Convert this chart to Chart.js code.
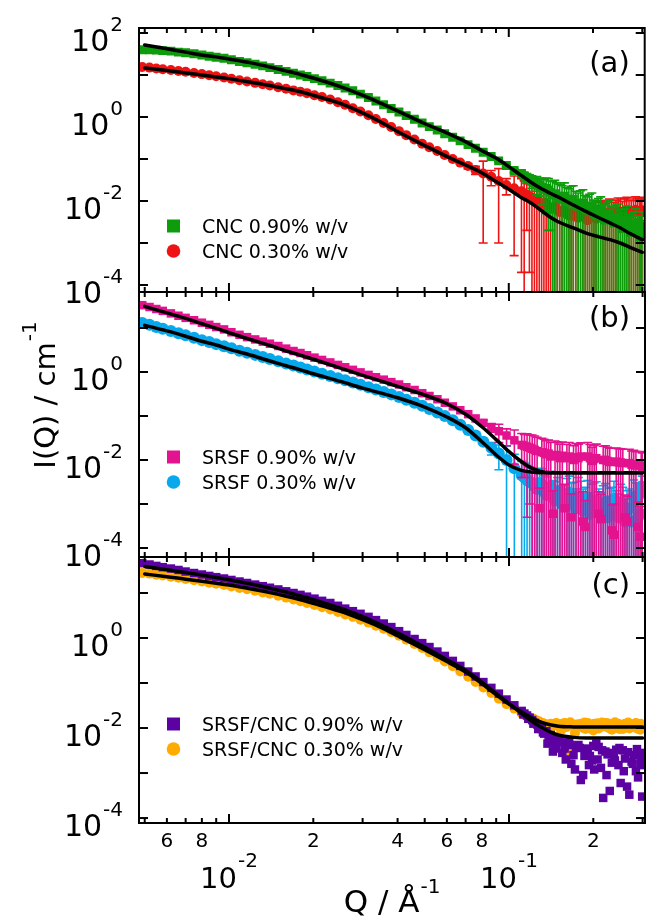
<!DOCTYPE html>
<html>
<head>
<meta charset="utf-8">
<script src="https://cdn.jsdelivr.net/npm/chart.js@4.4.1/dist/chart.umd.min.js"></script>
<style>
  body { margin: 0; background: #fff; }
  #wrap { position: relative; width: 651px; height: 922px; }
  #wrap canvas { position: absolute; left: 0; top: 0; }
</style>
</head>
<body>
<div id="wrap">
  <canvas id="pa" width="651" height="922"></canvas>
  <canvas id="pb" width="651" height="922"></canvas>
  <canvas id="pc" width="651" height="922"></canvas>
</div>
<script>
// Q values (1/Å) of the measured points, shared by all six curves
const q = [
  0.0049, 0.0052, 0.0055, 0.0058, 0.0062, 0.0066, 0.007, 0.0075, 0.008, 0.0085,
  0.009, 0.0096, 0.0102, 0.0109, 0.0116, 0.0124, 0.0132, 0.014, 0.015, 0.016,
  0.017, 0.018, 0.019, 0.0202, 0.0215, 0.023, 0.0245, 0.026, 0.0277, 0.0295,
  0.0315, 0.0335, 0.0357, 0.038, 0.0405, 0.043, 0.046, 0.049, 0.052, 0.0555,
  0.059, 0.063, 0.067, 0.0715, 0.076, 0.081, 0.0865, 0.092, 0.098, 0.1045,
  0.111, 0.116, 0.121, 0.126, 0.131, 0.136, 0.141, 0.146, 0.152, 0.158,
  0.164, 0.170, 0.177, 0.184, 0.191, 0.198, 0.205, 0.213, 0.221, 0.229,
  0.237, 0.246, 0.255, 0.264, 0.274, 0.284, 0.294, 0.299
];
// extra points in the noisy high-Q tail
const qTail = [
  0.1135, 0.1185, 0.1235, 0.1285, 0.1335, 0.1385, 0.1435, 0.149, 0.155, 0.161,
  0.167, 0.1735, 0.1805, 0.1875, 0.1945, 0.2015, 0.209, 0.217, 0.225, 0.233,
  0.2415, 0.2505, 0.2595, 0.269, 0.279, 0.289, 0.2965
];
// more tail points, panel (c)
const qTail2 = [
  0.1125, 0.1172, 0.1222, 0.1272, 0.1322, 0.1372, 0.1422, 0.1475, 0.1535, 0.1595,
  0.1655, 0.172, 0.179, 0.186, 0.193, 0.2, 0.2072, 0.215, 0.223, 0.231,
  0.239, 0.248, 0.257, 0.2665, 0.2765, 0.2865, 0.2955
];

// (a) CNC
const cnc090 = [
  40, 40, 39, 38, 37, 35, 34, 32, 30, 28,
  26.5, 25, 23, 21, 19.5, 18, 16.5, 15, 13.5, 12.2,
  11, 10, 9.2, 8.2, 7.3, 6.4, 5.6, 4.9, 4.2, 3.5,
  2.9, 2.4, 1.95, 1.6, 1.32, 1.08, 0.88, 0.72, 0.59, 0.49,
  0.4, 0.33, 0.27, 0.22, 0.18, 0.145, 0.115, 0.09, 0.07, 0.053,
  0.045, 0.036, 0.03, 0.026, 0.021, 0.02, 0.016, 0.015, 0.012, 0.013,
  0.0095, 0.011, 0.0075, 0.009, 0.006, 0.0075, 0.0045, 0.006, 0.0035, 0.005,
  0.003, 0.004, 0.0022, 0.0035, 0.0018, 0.003, 0.0014, 0.0025
];
const cnc090Err = [
  0, 0, 0, 0, 0, 0, 0, 0, 0, 0,
  0, 0, 0, 0, 0, 0, 0, 0, 0, 0,
  0, 0, 0, 0, 0, 0, 0, 0, 0, 0,
  0, 0, 0, 0, 0, 0, 0, 0, 0, 0,
  0, 0, 0, 0, 0, 0.004, 0.004, 0.004, 0.005, 0.006,
  0.008, 0.009, 0.01, 0.012, 0.013, 0.015, 0.014, 0.016, 0.013, 0.014,
  0.01, 0.012, 0.008, 0.0095, 0.0065, 0.008, 0.0055, 0.0065, 0.0045, 0.0055,
  0.004, 0.0045, 0.003, 0.004, 0.0025, 0.0035, 0.002, 0.003
];
const cnc090Tail = [
  0.04, 0.034, 0.027, 0.024, 0.019, 0.018, 0.014, 0.013, 0.011, 0.01,
  0.0105, 0.008, 0.0085, 0.0065, 0.007, 0.005, 0.0055, 0.004, 0.0045, 0.0035,
  0.0038, 0.0028, 0.003, 0.0022, 0.0024, 0.0017, 0.0019
];
const cnc090TailErr = [
  0.007, 0.008, 0.01, 0.011, 0.013, 0.016, 0.015, 0.014, 0.012, 0.011,
  0.012, 0.009, 0.009, 0.007, 0.0075, 0.0055, 0.006, 0.0045, 0.005, 0.004,
  0.0042, 0.0032, 0.0035, 0.0026, 0.003, 0.002, 0.0024
];
const cnc030 = [
  15.5, 15, 14.3, 13.7, 13.1, 12.5, 11.9, 11.2, 10.5, 9.9,
  9.3, 8.7, 8.1, 7.5, 7.0, 6.5, 6.0, 5.6, 5.1, 4.7,
  4.3, 4.0, 3.7, 3.3, 3.0, 2.6, 2.25, 1.95, 1.62, 1.35,
  1.1, 0.9, 0.72, 0.58, 0.46, 0.37, 0.29, 0.23, 0.19, 0.155,
  0.125, 0.1, 0.082, 0.068, 0.055, 0.045, 0.038, 0.03, 0.024, 0.02,
  0.017, 0.014, 0.012, 0.011, 0.0085, 0.009, 0.0065, 0.0075, 0.0055, 0.006,
  0.0045, 0.005, 0.004, 0.0048, 0.0035, 0.0045, 0.0038, 0.005, 0.0042, 0.0055,
  0.0045, 0.0058, 0.0048, 0.006, 0.005, 0.0062, 0.0052, 0.006
];
const cnc030Err = [
  0, 0, 0, 0, 0, 0, 0, 0, 0, 0,
  0, 0, 0, 0, 0, 0, 0, 0, 0, 0,
  0, 0, 0, 0, 0, 0, 0, 0, 0, 0,
  0, 0, 0, 0, 0, 0, 0, 0, 0, 0,
  0, 0, 0, 0.01, 0.012, 0.044, 0.015, 0.029, 0.01, 0.0195,
  0.0168, 0.012, 0.0125, 0.012, 0.009, 0.0095, 0.007, 0.008, 0.006, 0.0065,
  0.005, 0.0055, 0.0042, 0.005, 0.0038, 0.0047, 0.004, 0.0052, 0.0045, 0.0057,
  0.0047, 0.006, 0.005, 0.0062, 0.0052, 0.0064, 0.0054, 0.0062
];
const cnc030Tail = [
  0.015, 0.013, 0.0115, 0.0095, 0.0088, 0.0072, 0.007, 0.006, 0.0058, 0.005,
  0.0052, 0.0042, 0.0045, 0.004, 0.0042, 0.0045, 0.0048, 0.0046, 0.005, 0.0052,
  0.005, 0.0055, 0.0056, 0.0052, 0.0058, 0.0056, 0.0055
];
const cnc030TailErr = [
  0.0152, 0.0128, 0.0118, 0.0098, 0.009, 0.0075, 0.0072, 0.0062, 0.006, 0.0052,
  0.0054, 0.0044, 0.0047, 0.0042, 0.0044, 0.0047, 0.005, 0.0048, 0.0052, 0.0054,
  0.0052, 0.0057, 0.0058, 0.0054, 0.006, 0.0058, 0.0057
];

// (b) SRSF
const srsf090 = [
  33, 30, 27, 24.5, 21.5, 19, 17, 15, 13.2, 11.8,
  10.5, 9.3, 8.0, 7.0, 6.2, 5.5, 4.9, 4.4, 3.9, 3.4,
  3.0, 2.7, 2.4, 2.12, 1.88, 1.65, 1.45, 1.28, 1.12, 0.98,
  0.86, 0.76, 0.67, 0.59, 0.52, 0.45, 0.39, 0.33, 0.285, 0.24,
  0.2, 0.165, 0.135, 0.11, 0.088, 0.07, 0.055, 0.045, 0.036, 0.028,
  0.022, 0.02, 0.018, 0.016, 0.015, 0.0135, 0.012, 0.013, 0.011, 0.0008,
  0.012, 0.01, 0.011, 0.0004, 0.012, 0.0095, 0.011, 0.00045, 0.01, 0.009,
  0.0002, 0.0088, 0.0085, 0.0004, 0.0078, 0.0075, 0.00018, 0.007
];
const srsf090Err = [
  0, 0, 0, 0, 0, 0, 0, 0, 0, 0,
  0, 0, 0, 0, 0, 0, 0, 0, 0, 0,
  0, 0, 0, 0, 0, 0, 0, 0, 0, 0,
  0, 0, 0, 0, 0, 0, 0, 0, 0, 0,
  0, 0, 0, 0, 0, 0.01, 0.012, 0.02, 0.015, 0.02,
  0.018, 0.0195, 0.019, 0.017, 0.016, 0.014, 0.013, 0.014, 0.012, 0.002,
  0.013, 0.011, 0.012, 0.0015, 0.013, 0.01, 0.012, 0.0012, 0.011, 0.0095,
  0.0008, 0.0093, 0.009, 0.0011, 0.0082, 0.008, 0.0007, 0.0075
];
const srsf090Tail = [
  0.021, 0.019, 0.017, 0.0008, 0.0145, 0.014, 0.0006, 0.0125, 0.0125, 0.011,
  0.0005, 0.0115, 0.012, 0.0003, 0.011, 0.0105, 0.0006, 0.01, 0.0095, 0.00025,
  0.0092, 0.0088, 0.0005, 0.0085, 0.008, 0.0003, 0.0075
];
const srsf090TailErr = [
  0.017, 0.018, 0.018, 0.0015, 0.015, 0.0145, 0.0014, 0.013, 0.013, 0.0115,
  0.0012, 0.012, 0.0125, 0.0009, 0.0115, 0.011, 0.0013, 0.0105, 0.01, 0.0007,
  0.0096, 0.0092, 0.0011, 0.009, 0.0085, 0.0008, 0.008
];
const srsf030 = [
  13, 11.8, 10.6, 9.6, 8.5, 7.6, 6.8, 6.0, 5.3, 4.8,
  4.3, 3.85, 3.45, 3.05, 2.75, 2.45, 2.2, 1.97, 1.75, 1.55,
  1.4, 1.26, 1.14, 1.02, 0.91, 0.81, 0.72, 0.65, 0.58, 0.51,
  0.45, 0.4, 0.35, 0.31, 0.27, 0.235, 0.2, 0.17, 0.145, 0.12,
  0.1, 0.08, 0.063, 0.048, 0.036, 0.026, 0.019, 0.014, 0.01, 0.0065,
  0.0045, 0.0035, 0.003, 0.0022, 0.0028, 0.0016, 0.0025, 0.0012, 0.002, 0.0009,
  0.0018, 0.0011, 0.0015, 0.0007, 0.0014, 0.001, 0.0012, 0.0006, 0.0011, 0.0008,
  0.0013, 0.0005, 0.0009, 0.0007, 0.0004, 0.0012, 0.0006, 0.0018
];
const srsf030Err = [
  0, 0, 0, 0, 0, 0, 0, 0, 0, 0,
  0, 0, 0, 0, 0, 0, 0, 0, 0, 0,
  0, 0, 0, 0, 0, 0, 0, 0, 0, 0,
  0, 0, 0, 0, 0, 0, 0, 0, 0, 0,
  0, 0, 0, 0, 0, 0, 0.006, 0.008, 0.0105, 0.007,
  0.0048, 0.004, 0.0035, 0.003, 0.0035, 0.0025, 0.003, 0.002, 0.003, 0.0018,
  0.0025, 0.002, 0.0025, 0.0015, 0.002, 0.0018, 0.002, 0.0012, 0.0018, 0.0015,
  0.002, 0.0012, 0.0015, 0.0013, 0.001, 0.0018, 0.0012, 0.0025
];
const srsf030Tail = [
  0.004, 0.0032, 0.0025, 0.003, 0.0019, 0.0022, 0.0014, 0.0017, 0.001, 0.0016,
  0.0012, 0.0008, 0.0013, 0.0009, 0.0006, 0.0012, 0.0008, 0.001, 0.0005, 0.0009,
  0.0007, 0.0011, 0.0004, 0.0008, 0.0015, 0.0005, 0.0025
];
const srsf030TailErr = [
  0.0045, 0.0037, 0.003, 0.0035, 0.0025, 0.0028, 0.002, 0.0023, 0.0016, 0.0022,
  0.0018, 0.0014, 0.002, 0.0015, 0.0012, 0.0018, 0.0014, 0.0016, 0.001, 0.0015,
  0.0013, 0.0017, 0.0009, 0.0014, 0.002, 0.001, 0.003
];

// (c) SRSF/CNC
const srsfCnc090 = [
  46, 43, 40, 37.5, 35, 32.5, 30, 27.8, 25.8, 24,
  22.5, 21, 19.5, 18, 16.7, 15.4, 14.2, 13.1, 12, 10.9,
  10, 9.1, 8.3, 7.5, 6.7, 6.0, 5.2, 4.5, 3.95, 3.45,
  2.95, 2.5, 2.1, 1.75, 1.42, 1.17, 0.95, 0.77, 0.63, 0.5,
  0.4, 0.31, 0.24, 0.18, 0.14, 0.105, 0.078, 0.058, 0.043, 0.032,
  0.024, 0.019, 0.015, 0.012, 0.0095, 0.0085, 0.007, 0.0045, 0.0055, 0.0035,
  0.005, 0.0025, 0.0042, 0.0009, 0.0035, 0.0019, 0.0045, 0.0013, 0.003, 0.0004,
  0.0022, 0.0015, 0.0032, 0.0005, 0.0018, 0.0011, 0.0028, 0.0003
];
const srsfCnc090Tail = [
  0.021, 0.017, 0.013, 0.011, 0.0075, 0.0065, 0.003, 0.0052, 0.0028, 0.0045,
  0.0016, 0.0038, 0.0007, 0.003, 0.0024, 0.0012, 0.0038, 0.00028, 0.0026, 0.0017,
  0.0033, 0.0006, 0.0021, 0.00033, 0.0025, 0.0008, 0.0015
];
const srsfCnc090Tail2 = [
  0.02, 0.016, 0.0125, 0.0095, 0.008, 0.0045, 0.006, 0.0035, 0.0048, 0.002,
  0.0042, 0.0012, 0.0036, 0.0024, 0.0015, 0.004, 0.002, 0.0032, 0.0009, 0.0028,
  0.0019, 0.0036, 0.0011, 0.0029, 0.0016, 0.0034, 0.002
];
const srsfCnc030 = [
  28, 27, 25.6, 24.4, 23, 21.8, 20.5, 19.2, 18, 17,
  16, 15, 14, 13, 12.1, 11.2, 10.3, 9.6, 8.7, 7.9,
  7.2, 6.6, 6.0, 5.4, 4.85, 4.3, 3.8, 3.35, 2.95, 2.55,
  2.2, 1.88, 1.6, 1.35, 1.12, 0.92, 0.74, 0.6, 0.48, 0.38,
  0.3, 0.235, 0.18, 0.138, 0.105, 0.08, 0.06, 0.045, 0.034, 0.027,
  0.021, 0.018, 0.016, 0.0145, 0.013, 0.012, 0.0125, 0.0045, 0.011, 0.013,
  0.0032, 0.0115, 0.012, 0.01, 0.013, 0.0095, 0.012, 0.0105, 0.013, 0.0098,
  0.0115, 0.0125, 0.0095, 0.012, 0.0105, 0.013, 0.0092, 0.011
];
const srsfCnc030Tail = [
  0.02, 0.017, 0.0155, 0.014, 0.0125, 0.011, 0.0055, 0.0115, 0.0125, 0.0105,
  0.0025, 0.012, 0.0125, 0.0095, 0.0115, 0.0125, 0.0098, 0.0115, 0.0128, 0.0092,
  0.012, 0.0108, 0.0125, 0.0098, 0.0115, 0.0122, 0.0102
];
const srsfCnc030Tail2 = [
  0.02, 0.0175, 0.016, 0.0135, 0.0128, 0.0118, 0.0105, 0.013, 0.0088, 0.0122,
  0.0135, 0.0078, 0.011, 0.0132, 0.0118, 0.0088, 0.0128, 0.0132, 0.0105, 0.0122,
  0.0135, 0.0095, 0.0118, 0.0132, 0.0112, 0.0098, 0.0125
];

// model fits (black lines)
const qFit = [
  0.005, 0.006, 0.007, 0.008, 0.009, 0.01, 0.012, 0.014, 0.016, 0.018, 0.02,
  0.025, 0.03, 0.035, 0.04, 0.05, 0.06, 0.07, 0.08, 0.09, 0.1,
  0.11, 0.12, 0.13, 0.14, 0.15, 0.17, 0.19, 0.21, 0.23, 0.25, 0.27, 0.3
];
const fitCnc090 = [52, 42, 35, 30, 27, 24, 19.4, 15.5, 12.5, 10.3, 8.5,
  5.3, 3.3, 2.1, 1.4, 0.7, 0.42, 0.26, 0.16, 0.105, 0.066,
  0.042, 0.028, 0.02, 0.0155, 0.0125, 0.008, 0.0055, 0.004, 0.003, 0.0023, 0.0017, 0.0012];
const fitCnc030 = [14.7, 12.8, 11.2, 10, 9, 8.2, 6.7, 5.6, 4.7, 4.0, 3.3,
  2.1, 1.25, 0.75, 0.45, 0.21, 0.115, 0.072, 0.047, 0.029, 0.019,
  0.0125, 0.009, 0.0061, 0.0042, 0.0032, 0.0023, 0.0017, 0.0014, 0.0012, 0.001, 0.0008, 0.0006];
const fitSrsf090 = [31, 22, 16.5, 12.5, 9.8, 7.8, 5.4, 4.0, 3.0, 2.4, 1.95,
  1.23, 0.84, 0.62, 0.47, 0.3, 0.19, 0.11, 0.057, 0.029, 0.0155,
  0.0095, 0.0066, 0.0055, 0.0051, 0.0051, 0.0051, 0.0051, 0.0051, 0.0051, 0.0051, 0.0051, 0.0051];
const fitSrsf030 = [11.5, 8.6, 6.5, 5.0, 4.1, 3.3, 2.4, 1.78, 1.39, 1.12, 0.91,
  0.61, 0.43, 0.33, 0.26, 0.16, 0.095, 0.054, 0.026, 0.013, 0.0077,
  0.0059, 0.0053, 0.0051, 0.0051, 0.0051, 0.0051, 0.0051, 0.0051, 0.0051, 0.0051, 0.0051, 0.0051];
const fitSrsfCnc090 = [39, 33, 28.5, 25, 22.2, 19.8, 15.8, 12.8, 10.5, 8.6, 7.1,
  4.6, 3.0, 1.95, 1.3, 0.62, 0.33, 0.19, 0.105, 0.058, 0.035,
  0.022, 0.0145, 0.0105, 0.0082, 0.007, 0.0062, 0.006, 0.006, 0.006, 0.006, 0.006, 0.006];
const fitSrsfCnc030 = [26.5, 23, 20.3, 18.2, 16.5, 15, 12.3, 10.2, 8.5, 7.1, 5.9,
  3.9, 2.55, 1.7, 1.12, 0.55, 0.3, 0.175, 0.097, 0.055, 0.034,
  0.0235, 0.017, 0.0135, 0.0118, 0.011, 0.0106, 0.0105, 0.0105, 0.0105, 0.0105, 0.0105, 0.0105];

// axis ticks
const yDecades = [1e2, 1e1, 1, 1e-1, 1e-2, 1e-3, 1e-4];
const xMajor = [0.01, 0.1];
const xMinor = [0.005, 0.006, 0.007, 0.008, 0.009, 0.02, 0.03, 0.04, 0.05, 0.06, 0.07, 0.08, 0.09, 0.2, 0.3];
const xLabelVals = [0.006, 0.008, 0.02, 0.04, 0.06, 0.08, 0.2];
const xLabelText = ['6', '8', '2', '4', '6', '8', '2'];

const FONT = '"DejaVu Sans", sans-serif';

function pts(xs, ys) {
  return xs.map((x, i) => ({ x: x, y: ys[i] }));
}

// base text with a raised exponent
function supText(ctx, base, sup, x, y, big, small, align, rise) {
  ctx.font = big + 'px ' + FONT;
  const wb = ctx.measureText(base).width;
  ctx.font = small + 'px ' + FONT;
  const ws = ctx.measureText(sup).width;
  const w = wb + 1 + ws;
  const x0 = align === 'right' ? x - w : x - w / 2;
  ctx.textAlign = 'left';
  ctx.textBaseline = 'alphabetic';
  ctx.font = big + 'px ' + FONT;
  ctx.fillText(base, x0, y);
  ctx.font = small + 'px ' + FONT;
  ctx.fillText(sup, x0 + wb + 1, y - rise);
}

function seg(ctx, x1, y1, x2, y2) {
  ctx.beginPath();
  ctx.moveTo(x1, y1);
  ctx.lineTo(x2, y2);
  ctx.stroke();
}

const panelDecor = {
  id: 'panelDecor',
  // error bars go under each dataset's own markers
  beforeDatasetDraw(chart, args) {
    const ds = chart.data.datasets[args.index];
    if (!ds.errors) return;
    const { ctx, chartArea: a } = chart;
    const xs = chart.scales.x, ys = chart.scales.y;
    ctx.save();
    ctx.beginPath();
    ctx.rect(a.left, a.top, a.right - a.left, a.bottom - a.top);
    ctx.clip();
    ctx.strokeStyle = ds.backgroundColor;
    ctx.lineWidth = 1.6;
    ds.data.forEach((p, i) => {
      const e = ds.errors[i];
      if (!e) return;
      const px = xs.getPixelForValue(p.x);
      const top = ys.getPixelForValue(p.y + e);
      const lo = p.y - e;
      const bot = lo > 0 ? ys.getPixelForValue(lo) : a.bottom + 2;
      ctx.beginPath();
      ctx.moveTo(px, top); ctx.lineTo(px, bot);
      ctx.moveTo(px - 4.5, top); ctx.lineTo(px + 4.5, top);
      if (lo > 0) { ctx.moveTo(px - 4.5, bot); ctx.lineTo(px + 4.5, bot); }
      ctx.stroke();
    });
    ctx.restore();
  },
  afterDraw(chart, args, o) {
    const { ctx, chartArea: a } = chart;
    const xs = chart.scales.x, ys = chart.scales.y;
    ctx.save();
    ctx.strokeStyle = '#000';
    ctx.fillStyle = '#000';
    ctx.lineWidth = 2;
    ctx.strokeRect(a.left, a.top, a.right - a.left, a.bottom - a.top);

    yDecades.forEach(v => {
      const py = ys.getPixelForValue(v);
      if (py < a.top + 1 || py > a.bottom - 1) return;
      seg(ctx, a.left, py, a.left + 9, py);
      seg(ctx, a.right, py, a.right - 9, py);
      const e = Math.round(Math.log10(v));
      if (e % 2 === 0) supText(ctx, '10', String(e), a.left - 16, py + 18, 30, 20, 'right', 20);
    });

    xMajor.concat(xMinor).forEach(v => {
      const px = xs.getPixelForValue(v);
      const len = xMajor.includes(v) ? 9 : 5;
      seg(ctx, px, a.bottom, px, a.bottom - len);
      seg(ctx, px, a.top, px, a.top + len);
    });

    // panel tag
    ctx.font = '29px ' + FONT;
    ctx.textAlign = 'right';
    ctx.textBaseline = 'alphabetic';
    ctx.fillText(o.tag, a.right - 15, a.top + o.tagY);

    // legend
    let row = 0;
    chart.data.datasets.forEach(ds => {
      if (!ds.label) return;
      const cy = a.top + o.legendY + row * 25;
      const cx = a.left + 34.5;
      ctx.fillStyle = ds.backgroundColor;
      if (ds.pointStyle === 'rect') {
        ctx.fillRect(cx - 6.5, cy - 6.5, 13, 13);
      } else {
        ctx.beginPath();
        ctx.arc(cx, cy, 6.8, 0, Math.PI * 2);
        ctx.fill();
      }
      ctx.fillStyle = '#000';
      ctx.font = '19px ' + FONT;
      ctx.textAlign = 'left';
      ctx.fillText(ds.label, a.left + 63, cy + 7);
      row++;
    });

    if (o.xLabels) {
      ctx.font = '20px ' + FONT;
      ctx.textAlign = 'center';
      xLabelVals.forEach((v, i) => {
        ctx.fillText(xLabelText[i], xs.getPixelForValue(v), a.bottom + 24);
      });
      xMajor.forEach(v => {
        const e = Math.round(Math.log10(v));
        supText(ctx, '10', String(e), xs.getPixelForValue(v), a.bottom + 65, 29, 20, 'center', 21);
      });
      supText(ctx, 'Q / Å', '-1', (a.left + a.right) / 2, a.bottom + 89, 31, 20, 'center', 19);
    }

    if (o.yTitle) {
      ctx.translate(55, o.yTitle);
      ctx.rotate(-Math.PI / 2);
      supText(ctx, 'I(Q) / cm', '-1', 0, 0, 29, 20, 'center', 19);
    }
    ctx.restore();
  }
};

// parts: [[qValues, intensities, errors or null], ...]
function dataSet(label, parts, color, shape, radius, order) {
  let data = [], errors = [], hasErr = false;
  parts.forEach(([xs, ys, es]) => {
    data = data.concat(pts(xs, ys));
    errors = errors.concat(es || xs.map(() => 0));
    if (es) hasErr = true;
  });
  return {
    label: label,
    data: data,
    errors: hasErr ? errors : null,
    backgroundColor: color,
    borderColor: color,
    pointStyle: shape,
    pointRadius: radius,
    pointBorderWidth: 0,
    order: order
  };
}

function fitSet(ys) {
  return {
    data: pts(qFit, ys),
    showLine: true,
    borderColor: '#000',
    backgroundColor: '#000',
    borderWidth: 3.5,
    pointRadius: 0,
    cubicInterpolationMode: 'monotone',
    borderCapStyle: 'round',
    order: 0
  };
}

function makePanel(id, top, bottom, yMin, yMax, datasets, deco) {
  return new Chart(document.getElementById(id), {
    type: 'scatter',
    data: { datasets: datasets },
    options: {
      responsive: false,
      animation: false,
      events: [],
      layout: { padding: { left: 139, right: 6, top: top, bottom: 922 - bottom } },
      scales: {
        x: { type: 'logarithmic', min: 0.00477, max: 0.306, display: false },
        y: { type: 'logarithmic', min: yMin, max: yMax, display: false }
      },
      plugins: {
        legend: { display: false },
        tooltip: { enabled: false },
        panelDecor: deco
      }
    },
    plugins: [panelDecor]
  });
}

makePanel('pa', 28, 292, 6.81e-5, 131.5, [
  fitSet(fitCnc090),
  fitSet(fitCnc030),
  dataSet('CNC 0.90% w/v', [[q, cnc090, cnc090Err], [qTail, cnc090Tail, cnc090TailErr]], '#0c9c0c', 'rect', 6.3, 1),
  dataSet('CNC 0.30% w/v', [[q, cnc030, cnc030Err], [qTail, cnc030Tail, cnc030TailErr]], '#ee1414', 'circle', 5, 2)
], { tag: '(a)', tagY: 44, legendY: 198 });

makePanel('pb', 292, 557, 6.24e-5, 65.8, [
  fitSet(fitSrsf090),
  fitSet(fitSrsf030),
  dataSet('SRSF 0.90% w/v', [[q, srsf090, srsf090Err], [qTail, srsf090Tail, srsf090TailErr]], '#e3128e', 'rect', 6, 1),
  dataSet('SRSF 0.30% w/v', [[q, srsf030, srsf030Err], [qTail, srsf030Tail, srsf030TailErr]], '#08a8ec', 'circle', 6, 2)
], { tag: '(b)', tagY: 35, legendY: 165, yTitle: 395 });

makePanel('pc', 557, 823, 7.76e-5, 63.1, [
  fitSet(fitSrsfCnc090),
  fitSet(fitSrsfCnc030),
  dataSet('SRSF/CNC 0.90% w/v', [[q, srsfCnc090], [qTail, srsfCnc090Tail], [qTail2, srsfCnc090Tail2]], '#5c02a2', 'rect', 6, 1),
  dataSet('SRSF/CNC 0.30% w/v', [[q, srsfCnc030], [qTail, srsfCnc030Tail], [qTail2, srsfCnc030Tail2]], '#ffab00', 'circle', 5, 2)
], { tag: '(c)', tagY: 37, legendY: 167, xLabels: true });
</script>
</body>
</html>
